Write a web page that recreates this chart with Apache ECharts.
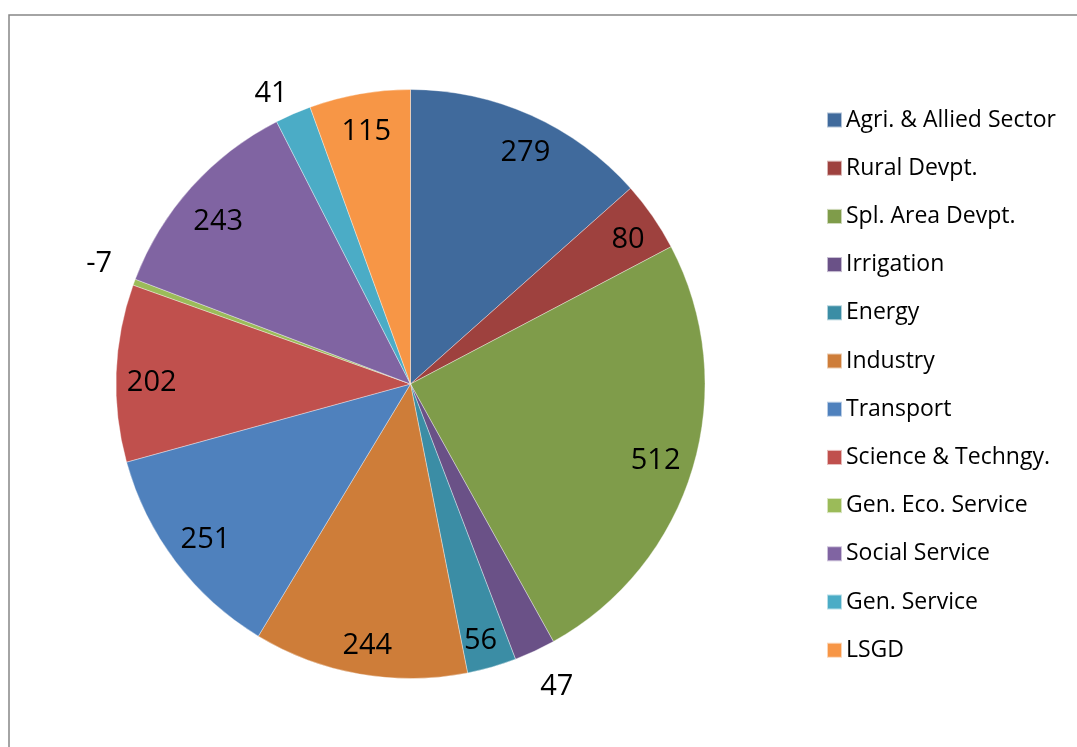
<!DOCTYPE html>
<html>
<head>
<meta charset="utf-8">
<script src="https://cdn.jsdelivr.net/npm/echarts@6/dist/echarts.min.js"></script>
<style>
html,body{margin:0;padding:0;background:#fff;}
#chart{width:1077px;height:747px;}
</style>
</head>
<body>
<div id="chart"></div>
<script>
const categories = ['Agri. & Allied Sector','Rural Devpt.','Spl. Area Devpt.','Irrigation','Energy','Industry','Transport','Science & Techngy.','Gen. Eco. Service','Social Service','Gen. Service','LSGD'];
const values = [279, 80, 512, 47, 56, 244, 251, 202, -7, 243, 41, 115];
const colors = ['#406A9C','#9E413E','#7F9C4A','#6A5187','#3B8DA5','#CE7D39','#4F81BD','#C0504D','#9BBB59','#8064A2','#4BACC6','#F79646'];
const outsideLabels = ['Irrigation','Gen. Eco. Service','Gen. Service'];

// label placement nudges (style only, in px: [dx, dy])
const labelNudge = [[8,7],[3,4],[-5,2],[5,-1],[-2,6],[2,5],[3,-2],[2,8],[3,-4],[2,12],[-6,17],[1,5]];

const center = [410.5, 384];
const R = 294.5;
const FONT = 'Open Sans';

function nudgePadding(d) {
  const dx = d[0], dy = d[1];
  return [Math.max(0, 2*dy), Math.max(0, -2*dx), Math.max(0, -2*dy), Math.max(0, 2*dx)];
}

const mainData = categories.map((c, i) => ({
  name: c, value: Math.abs(values[i]), itemStyle: { color: colors[i] }
}));
function labelFor(i, show) {
  return {
    show: show,
    formatter: '{v|' + values[i] + '}',
    rich: { v: { padding: nudgePadding(labelNudge[i]), fontFamily: FONT, fontSize: 29, color: '#000' } }
  };
}
const insideData = categories.map((c, i) => ({
  name: c, value: Math.abs(values[i]), label: labelFor(i, outsideLabels.indexOf(c) < 0)
}));
const outsideData = categories.map((c, i) => ({
  name: c, value: Math.abs(values[i]), label: labelFor(i, outsideLabels.indexOf(c) >= 0)
}));
const transparent = { color: 'rgba(0,0,0,0)', borderWidth: 0 };
const labelStyle = { position: 'inside', color: '#000', fontFamily: FONT, fontSize: 29, textBorderWidth: 0 };

const chart = echarts.init(document.getElementById('chart'), null, { renderer: 'canvas' });
chart.setOption({
  animation: false,
  backgroundColor: '#fff',
  graphic: [{
    type: 'rect', shape: { x: 9, y: 15, width: 1300, height: 1000 },
    style: { fill: 'none', stroke: '#868686', lineWidth: 1.5 }, silent: true
  }],
  legend: {
    orient: 'vertical', left: 821, top: 103,
    itemWidth: 15, itemHeight: 15, itemGap: 24.2,
    icon: 'rect',
    data: categories,
    textStyle: { fontFamily: FONT, fontSize: 23, color: '#000', lineHeight: 24, padding: [0,0,0,-1] },
    selectedMode: false
  },
  series: [
    {
      type: 'pie', center: center, radius: [0, R], startAngle: 90, clockwise: true,
      avoidLabelOverlap: false, label: { show: false }, labelLine: { show: false },
      itemStyle: { borderColor: 'rgba(255,255,255,0.6)', borderWidth: 0.6 },
      emphasis: { disabled: true },
      data: mainData
    },
    {
      type: 'pie', center: center, radius: [221, 295], startAngle: 90, clockwise: true,
      silent: true, avoidLabelOverlap: false, legendHoverLink: false,
      itemStyle: transparent, label: labelStyle, labelLine: { show: false },
      emphasis: { disabled: true }, tooltip: { show: false },
      data: insideData
    },
    {
      type: 'pie', center: center, radius: [300, 364], startAngle: 90, clockwise: true,
      silent: true, avoidLabelOverlap: false, legendHoverLink: false,
      itemStyle: transparent, label: labelStyle, labelLine: { show: false },
      emphasis: { disabled: true }, tooltip: { show: false },
      data: outsideData
    }
  ]
});
</script>
</body>
</html>
